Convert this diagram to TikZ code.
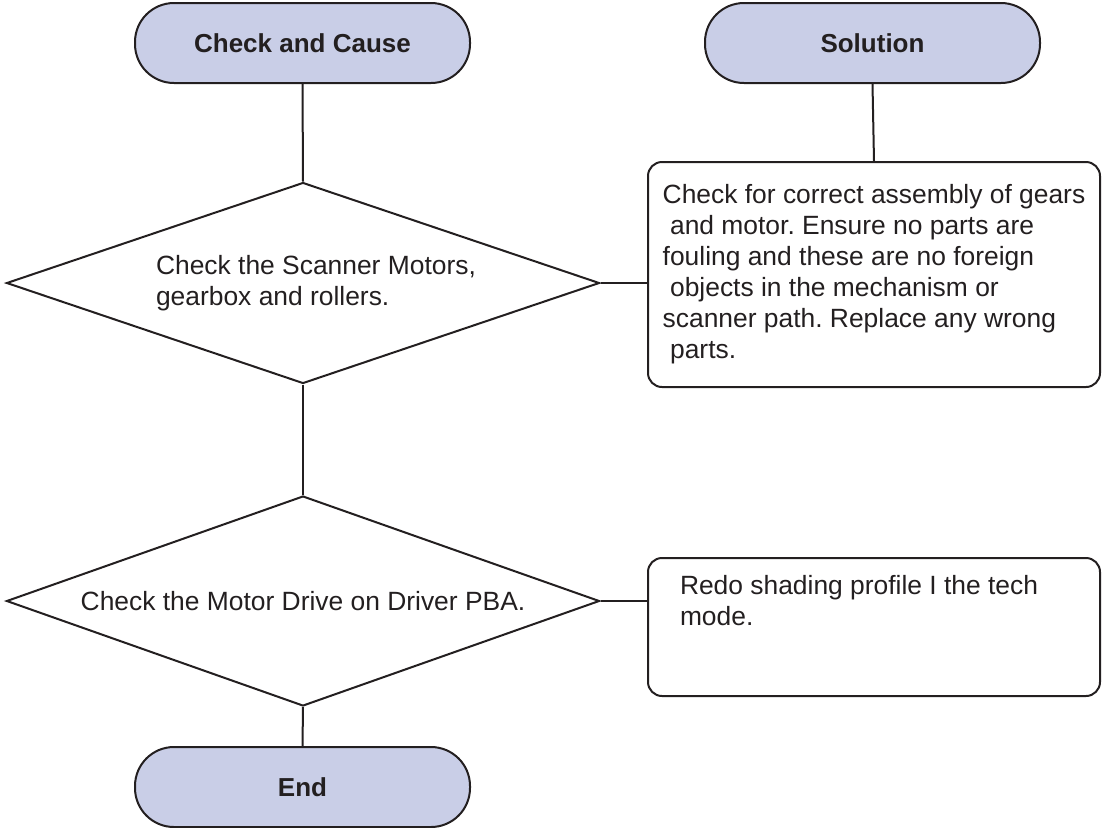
\documentclass[tikz,border=0pt]{standalone}
\usepackage{fontspec}
\setmainfont{Liberation Sans}
\usetikzlibrary{shapes.geometric,positioning}
\definecolor{termfill}{RGB}{201,206,231}
\definecolor{inkline}{RGB}{35,31,32}
\frenchspacing
\begin{document}
\begin{tikzpicture}[x=0.5pt,y=-0.5pt,
		line width=1pt, draw=inkline, text=inkline,
		terminal/.style={draw, fill=termfill, rectangle, rounded corners=19.5pt,
			minimum width=167.5pt, minimum height=40pt, inner sep=0pt,
			font=\fontsize{13}{15.5}\selectfont\bfseries},
		decide/.style={draw, diamond, aspect=2.9, inner sep=0pt, align=left,
			font=\fontsize{13.2}{15.5}\selectfont},
		solbox/.style={draw, rectangle, rounded corners=7pt, minimum width=226pt,
			inner xsep=7pt, inner ysep=0pt, font=\fontsize{13.2}{15.5}\selectfont}]
	\useasboundingbox (0,0) rectangle (1104,827);
	\node[terminal] (cause) at (302.5,43) {Check and Cause};
	\node[terminal] (solution) at (872.5,43) {Solution};
	\node[decide, minimum width=296.5pt, minimum height=100.5pt] (motors) at (303,283)
		{\hspace*{13pt}Check the Scanner Motors,\\\hspace*{13pt}gearbox and rollers.};
	\node[decide, minimum width=296.5pt, minimum height=105pt] (drive) at (303,601)
		{Check the Motor Drive on Driver PBA.};
	\node[terminal] (finish) at (302.5,787) {End};
	\node[solbox, align=left, minimum height=112.5pt] (gears) at (874,274.5)
		{Check for correct assembly of gears\\
		\hspace*{0.28em}and motor. Ensure no parts are\\
		fouling and these are no foreign\\
		\hspace*{0.28em}objects in the mechanism or\\
		scanner path. Replace any wrong\\
		\hspace*{0.28em}parts.};
	\node[solbox, minimum height=69pt] (shading) at (874,627) {};
	\node[anchor=north west, inner sep=0pt, align=left, font=\fontsize{13.2}{15.5}\selectfont]
		(shadingtext) [below right=8.5pt and 16pt of shading.north west]
		{Redo shading profile I the tech\\mode.};
	\draw (cause.south) -- (motors.north);
	\draw (motors.south) -- (drive.north);
	\draw (drive.south) -- (finish.north);
	\draw (solution.south) -- (gears.north);
	\draw (motors.east) -- (motors.east -| gears.west);
	\draw (drive.east) -- (drive.east -| shading.west);
\end{tikzpicture}
\end{document}
